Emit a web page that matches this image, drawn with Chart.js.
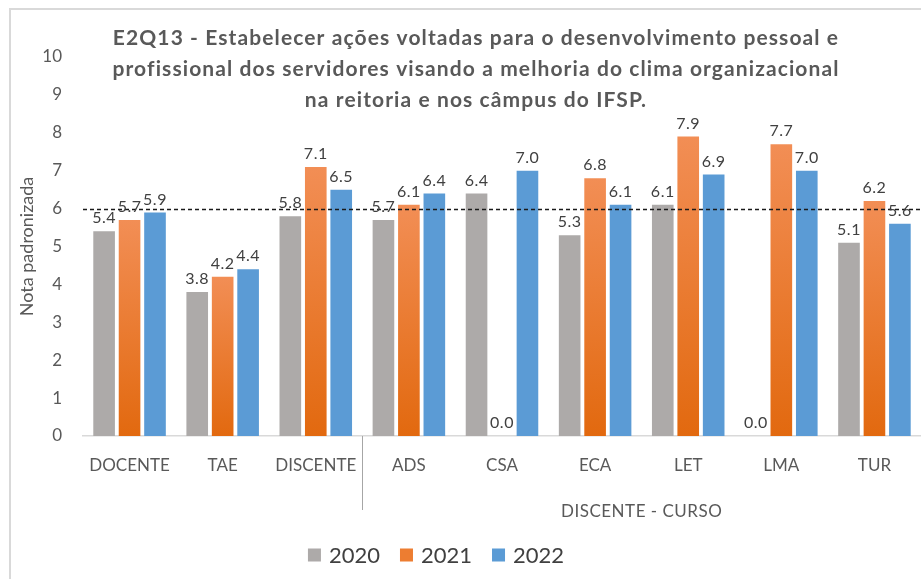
<!DOCTYPE html>
<html>
<head>
<meta charset="utf-8">
<script src="https://cdn.jsdelivr.net/npm/chart.js@4.4.0/dist/chart.umd.min.js"></script>
<style>
  body { margin: 0; background: #fff; }
  #wrap { position: relative; width: 921px; height: 579px; overflow: hidden; }
  #frame { position: absolute; left: 9px; top: 8px; width: 1000px; height: 1000px;
           border-left: 2px solid #d9d9d9; border-top: 2px solid #d9d9d9; }
  #box { position: absolute; left: 0; top: 0; width: 921px; height: 579px; }
</style>
</head>
<body>
<div id="wrap">
  <div id="frame"></div>
  <div id="box"><canvas id="chart"></canvas></div>
</div>
<script>
'use strict';

// ===== data =====
const categories = ['DOCENTE', 'TAE', 'DISCENTE', 'ADS', 'CSA', 'ECA', 'LET', 'LMA', 'TUR'];
const years = ['2020', '2021', '2022'];
const values2020 = [5.4, 3.8, 5.8, 5.7, 6.4, 5.3, 6.1, 0.0, 5.1];
const values2021 = [5.7, 4.2, 7.1, 6.1, 0.0, 6.8, 7.9, 7.7, 6.2];
const values2022 = [5.9, 4.4, 6.5, 6.4, 7.0, 6.1, 6.9, 7.0, 5.6];
const yTicks = [0, 1, 2, 3, 4, 5, 6, 7, 8, 9, 10];
const referenceValue = 6;
const groupLabel = 'DISCENTE - CURSO';
const groupStart = 'ADS';
const titleLines = [
    'E2Q13 - Estabelecer ações voltadas para o desenvolvimento pessoal e',
    'profissional dos servidores visando a melhoria do clima organizacional',
    'na reitoria e nos câmpus do IFSP.'
];

const FONT = 'Lato, "Open Sans", sans-serif';
const GRAY = '#adaaa9';
const BLUE = '#5b9bd5';

function orangeFill(c) {
    const chart = c.chart;
    const area = chart.chartArea;
    if (!area || c.raw === undefined) return '#ed7d31';
    const top = chart.scales.y.getPixelForValue(c.raw);
    const g = chart.ctx.createLinearGradient(0, top, 0, area.bottom);
    g.addColorStop(0, '#f28e55');
    g.addColorStop(1, '#e2690f');
    return g;
}

// dashed reference line, group separator, value labels, title and legend
const extras = {
    id: 'extras',
    afterDatasetsDraw(chart) {
        const ctx = chart.ctx;
        const area = chart.chartArea;
        const y = chart.scales.y;

        // reference line at 6
        const yr = Math.round(y.getPixelForValue(referenceValue)) + 0.5;
        ctx.save();
        ctx.strokeStyle = '#1a1a1a';
        ctx.lineWidth = 1.3;
        ctx.setLineDash([4, 3]);
        ctx.beginPath();
        ctx.moveTo(area.left, yr);
        ctx.lineTo(area.right, yr);
        ctx.stroke();
        ctx.restore();

        // value labels
        ctx.save();
        ctx.font = '16px ' + FONT;
        ctx.letterSpacing = '0.5px';
        ctx.fillStyle = '#404040';
        ctx.textAlign = 'center';
        ctx.textBaseline = 'bottom';
        chart.data.datasets.forEach((ds, i) => {
            chart.getDatasetMeta(i).data.forEach((bar, j) => {
                ctx.fillText(ds.data[j].toFixed(1), bar.x, bar.y - 5);
            });
        });
        ctx.restore();
    },
    afterDraw(chart) {
        const ctx = chart.ctx;
        const area = chart.chartArea;
        const x = chart.scales.x;

        // separator between groups and group label
        const idx = categories.indexOf(groupStart);
        const sx = Math.round((x.getPixelForValue(idx - 1) + x.getPixelForValue(idx)) / 2) + 0.5;
        ctx.save();
        ctx.strokeStyle = '#a6a6a6';
        ctx.lineWidth = 1;
        ctx.beginPath();
        ctx.moveTo(sx, area.bottom);
        ctx.lineTo(sx, area.bottom + 74);
        ctx.stroke();
        const gx = (x.getPixelForValue(idx) + x.getPixelForValue(categories.length - 1)) / 2;
        ctx.font = '17px ' + FONT;
        ctx.letterSpacing = '0.5px';
        ctx.fillStyle = '#595959';
        ctx.textAlign = 'center';
        ctx.textBaseline = 'middle';
        ctx.fillText(groupLabel, gx, area.bottom + 76);
        ctx.restore();

        // title
        ctx.save();
        ctx.font = 'bold 21px ' + FONT;
        ctx.letterSpacing = '1.1px';
        ctx.fillStyle = '#595959';
        ctx.textAlign = 'center';
        ctx.textBaseline = 'alphabetic';
        titleLines.forEach((line, i) => ctx.fillText(line, 476, 45 + i * 31));
        ctx.restore();

        // legend
        ctx.save();
        ctx.font = '22px ' + FONT;
        const box = 13, gap = 8, spacing = 20;
        const widths = chart.data.datasets.map(ds => box + gap + ctx.measureText(ds.label).width);
        const total = widths.reduce((a, b) => a + b, 0) + spacing * (widths.length - 1);
        let lx = 436 - total / 2;
        const ly = 555;
        chart.data.datasets.forEach((ds, i) => {
            ctx.fillStyle = ds.legendColor;
            ctx.fillRect(lx, ly - box / 2, box, box);
            ctx.fillStyle = '#404040';
            ctx.textBaseline = 'middle';
            ctx.textAlign = 'left';
            ctx.fillText(ds.label, lx + box + gap, ly + 1);
            lx += widths[i] + spacing;
        });
        ctx.restore();
    }
};

new Chart(document.getElementById('chart'), {
    type: 'bar',
    data: {
        labels: categories,
        datasets: [
            { label: years[0], data: values2020, backgroundColor: GRAY, legendColor: GRAY },
            { label: years[1], data: values2021, backgroundColor: orangeFill, legendColor: '#ed7d31' },
            { label: years[2], data: values2022, backgroundColor: BLUE, legendColor: BLUE }
        ]
    },
    options: {
        responsive: true,
        maintainAspectRatio: false,
        animation: false,
        layout: { padding: { left: 9, right: 0, top: 57, bottom: 0 } },
        datasets: { bar: { categoryPercentage: 0.82, barPercentage: 0.85 } },
        plugins: {
            legend: { display: false },
            title: { display: false },
            tooltip: { enabled: false }
        },
        scales: {
            x: {
                grid: { display: false, drawTicks: false },
                border: { display: true, color: '#d9d9d9', width: 1.5 },
                ticks: {
                    color: '#595959',
                    font: { family: FONT, size: 17 },
                    padding: 19,
                    maxRotation: 0,
                    autoSkip: false
                },
                afterFit(s) { s.height = 143; }
            },
            y: {
                min: 0,
                max: 10,
                afterBuildTicks(s) { s.ticks = yTicks.map(v => ({ value: v })); },
                grid: { display: false, drawTicks: false },
                border: { display: false },
                ticks: {
                    color: '#595959',
                    font: { family: FONT, size: 17 },
                    padding: 21
                },
                title: {
                    display: true,
                    text: 'Nota padronizada',
                    color: '#595959',
                    font: { family: FONT, size: 18 },
                    padding: { top: 7, bottom: 0 }
                },
                afterFit(s) { s.width = 74; }
            }
        }
    },
    plugins: [extras]
});
</script>
</body>
</html>
